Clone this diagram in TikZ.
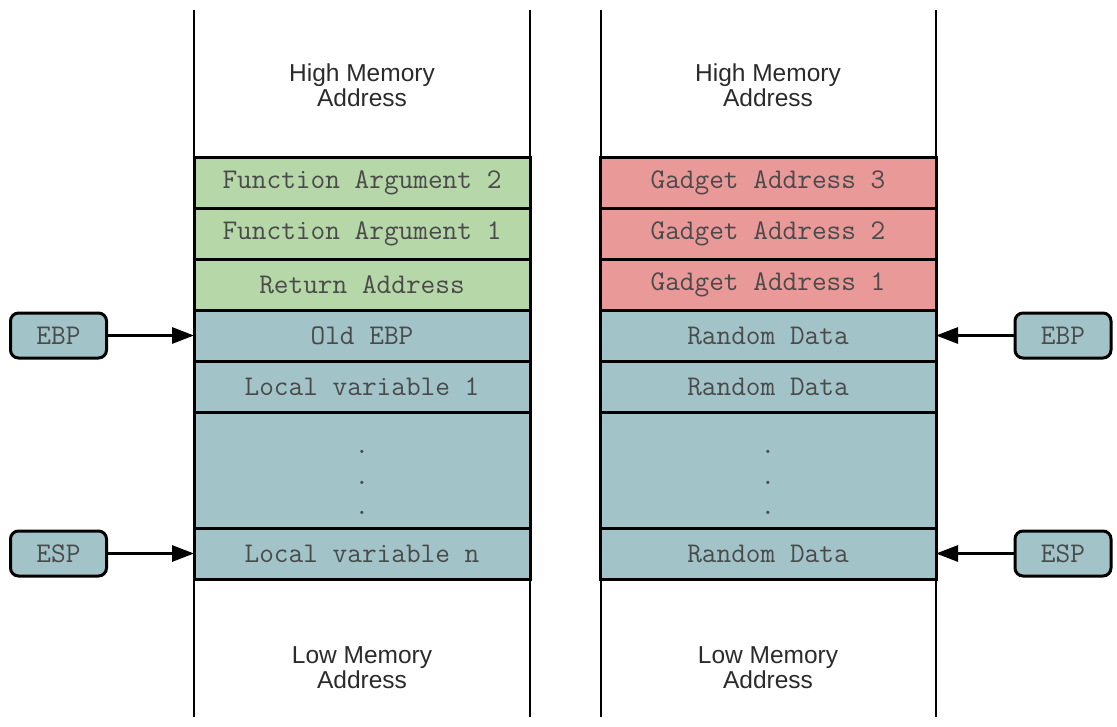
\documentclass[tikz,border=0pt]{standalone}
\usepackage{fontspec}
\setmainfont{Liberation Sans}
\setsansfont{Liberation Sans}
\usepackage{tikz}
\usetikzlibrary{positioning,arrows.meta}
\definecolor{green1}{HTML}{B6D7A8}
\definecolor{red1}{HTML}{EA9999}
\definecolor{teal1}{HTML}{A2C4C9}
\definecolor{gray1}{HTML}{4A4A4A}
\definecolor{gray2}{HTML}{2B2B2B}

\begin{document}
\begin{tikzpicture}[
    x=1pt, y=-1pt,
    >={Triangle[length=22pt,width=16pt]},
    cell/.style={draw, line width=3pt, minimum width=336pt,
                 minimum height=51pt, inner sep=0pt, outer sep=0pt,
                 text=gray1, font=\ttfamily\fontsize{28.5}{30}\selectfont},
    dotcell/.style={cell, minimum height=116pt, align=center,
                    text height=89pt, text depth=0pt,
                    font=\ttfamily\fontsize{28.5}{30.5}\selectfont},
    reg/.style={draw, line width=3pt, rounded corners=8pt, fill=teal1,
                minimum width=96pt, minimum height=45pt, inner sep=0pt,
                text=gray1, font=\ttfamily\fontsize{28.5}{30}\selectfont},
    memtxt/.style={align=center, text=gray2,
                   font=\sffamily\fontsize{24.5}{25}\selectfont},
    wall/.style={line width=2.5pt},
    ptr/.style={->, line width=3pt},
]
\useasboundingbox (0,0) rectangle (1117,726);

% Stack walls
\draw[wall] (194,10) -- (194,717);
\draw[wall] (530,10) -- (530,717);
\draw[wall] (601,10) -- (601,717);
\draw[wall] (936,10) -- (936,717);

% Address ends
\node[memtxt] (hiL) at (362,85) {High Memory\\Address};
\node[memtxt] (hiR) at (768,85) {High Memory\\Address};
\node[memtxt] (loL) at (362,668) {Low Memory\\Address};
\node[memtxt] (loR) at (768,668) {Low Memory\\Address};

% Normal stack frame
\node[cell, fill=green1, anchor=north] (arg2L) at (362,157) {Function Argument 2};
\node[cell, fill=green1, below=0pt of arg2L] (arg1L) {Function Argument 1};
\node[cell, fill=green1, below=0pt of arg1L] (retL) {Return Address};
\node[cell, fill=teal1, below=0pt of retL] (oldL) {Old EBP};
\node[cell, fill=teal1, below=0pt of oldL] (lv1L) {Local variable 1};
\node[dotcell, fill=teal1, below=0pt of lv1L] (dotsL) {.\\.\\.};
\node[cell, fill=teal1, below=0pt of dotsL] (lvnL) {Local variable n};

% ROP chain frame
\node[cell, fill=red1, anchor=north] (g3R) at (768,157) {Gadget Address 3};
\node[cell, fill=red1, below=0pt of g3R] (g2R) {Gadget Address 2};
\node[cell, fill=red1, below=0pt of g2R] (g1R) {Gadget Address 1};
\node[cell, fill=teal1, below=0pt of g1R] (rd1R) {Random Data};
\node[cell, fill=teal1, below=0pt of rd1R] (rd2R) {Random Data};
\node[dotcell, fill=teal1, below=0pt of rd2R] (dotsR) {.\\.\\.};
\node[cell, fill=teal1, below=0pt of dotsR] (rdnR) {Random Data};

% Registers
\node[reg] (ebpL) at (58.5,335.5) {EBP};
\node[reg] (espL) at (58.5,553.5) {ESP};
\node[reg] (ebpR) at (1063,335.5) {EBP};
\node[reg] (espR) at (1063,553.5) {ESP};

\draw[ptr] (ebpL) -- (oldL);
\draw[ptr] (espL) -- (lvnL);
\draw[ptr] (ebpR) -- (rd1R);
\draw[ptr] (espR) -- (rdnR);
\end{tikzpicture}
\end{document}
